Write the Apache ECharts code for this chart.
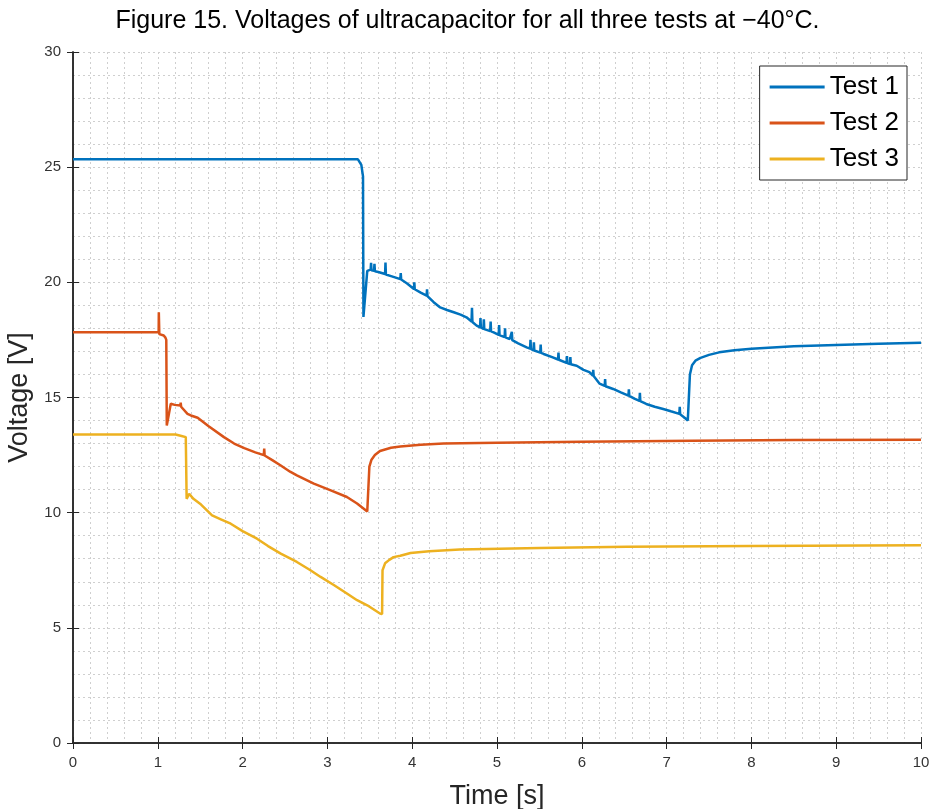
<!DOCTYPE html>
<html>
<head>
<meta charset="utf-8">
<script src="https://cdn.jsdelivr.net/npm/echarts@6/dist/echarts.min.js"></script>
<style>html,body{margin:0;padding:0;background:#fff}#c{width:935px;height:809px}</style>
</head>
<body>
<div id="c"></div>
<script>
// ---- data ----
const xTicks = [0,1,2,3,4,5,6,7,8,9,10];
const yTicks = [0,5,10,15,20,25,30];
const seriesNames = ['Test 1','Test 2','Test 3'];

const t1 = [0,3.36,3.40,3.42,3.425,3.47,3.49,3.51,3.515,3.52,3.55,3.555,3.56,3.6,3.68,3.685,3.69,3.76,3.86,3.865,3.87,3.94,
  4.02,4.025,4.03,4.1,4.17,4.175,4.18,4.25,4.33,4.41,4.49,4.57,4.64,4.70,4.705,4.71,4.76,4.80,4.805,4.81,4.84,4.845,4.85,
  4.92,4.925,4.93,4.96,5.02,5.025,5.03,5.09,5.095,5.1,5.15,5.17,5.175,5.18,5.25,5.35,5.39,5.395,5.4,5.43,5.435,5.44,
  5.51,5.515,5.52,5.55,5.65,5.72,5.725,5.73,5.74,5.82,5.825,5.83,5.86,5.865,5.87,5.94,6.02,6.09,6.13,6.135,6.14,6.21,
  6.27,6.275,6.28,6.37,6.46,6.55,6.555,6.56,6.62,6.68,6.685,6.69,6.76,6.86,6.96,7.05,7.15,7.155,7.16,7.22,7.25,7.27,
  7.275,7.30,7.34,7.4,7.5,7.62,7.8,8,8.5,9,9.5,10];
const v1 = [25.34,25.34,25.1,24.6,18.5,20.5,20.57,20.55,20.85,20.52,20.5,20.8,20.48,20.45,20.36,20.86,20.34,20.26,20.14,20.4,20.12,19.95,
  19.71,20.0,19.7,19.55,19.42,19.7,19.4,19.15,18.91,18.8,18.7,18.6,18.48,18.3,18.9,18.28,18.12,18.05,18.45,18.04,17.98,18.4,17.97,
  17.88,18.3,17.87,17.83,17.72,18.15,17.71,17.62,18.0,17.61,17.54,17.5,17.85,17.49,17.35,17.18,17.12,17.5,17.11,17.05,17.4,17.04,
  16.95,17.3,16.94,16.89,16.75,16.65,16.95,16.64,16.6,16.5,16.8,16.49,16.45,16.75,16.44,16.38,16.2,16.1,15.95,16.2,15.93,15.6,
  15.5,15.8,15.49,15.37,15.22,15.08,15.35,15.07,14.95,14.85,15.2,14.84,14.72,14.6,14.5,14.4,14.29,14.6,14.27,14.1,14.0,13.95,
  16.0,16.4,16.6,16.72,16.85,16.96,17.05,17.12,17.22,17.28,17.33,17.38];

const t2 = [0,1.01,1.012,1.018,1.03,1.07,1.09,1.10,1.106,1.153,1.2,1.265,1.27,1.275,1.35,1.39,1.47,1.6,1.78,1.9,2.02,2.15,2.25,2.255,2.26,
  2.35,2.45,2.56,2.64,2.84,3.04,3.23,3.35,3.47,3.49,3.495,3.52,3.56,3.62,3.75,3.86,4.1,4.37,5,6,7.3,8.5,10];
const v2 = [17.83,17.83,18.7,17.75,17.69,17.69,17.6,17.5,13.78,14.73,14.68,14.65,14.78,14.6,14.29,14.22,14.12,13.75,13.28,13.0,12.8,12.62,12.5,12.78,12.48,
  12.28,12.05,11.78,11.62,11.26,10.97,10.68,10.4,10.05,10.0,12.0,12.3,12.5,12.68,12.82,12.87,12.95,13.0,13.04,13.08,13.12,13.15,13.17];

const t3 = [0,1.21,1.28,1.33,1.34,1.37,1.42,1.51,1.64,1.75,1.86,2.0,2.17,2.3,2.45,2.64,2.8,2.92,3.08,3.23,3.35,3.47,3.62,3.645,3.65,
  3.68,3.73,3.78,3.86,3.98,4.2,4.56,5.5,6.53,8,10];
const v3 = [13.39,13.39,13.33,13.28,10.6,10.82,10.6,10.35,9.88,9.7,9.52,9.2,8.87,8.55,8.22,7.86,7.5,7.21,6.85,6.49,6.2,5.98,5.62,5.6,7.5,
  7.8,7.95,8.07,8.13,8.25,8.33,8.4,8.47,8.52,8.55,8.58];

const colors = ['#0072BD','#D95319','#EDB120'];
// --------------------------------------

const pair = (t, v) => t.map((x, i) => [x, v[i]]);
const data = [pair(t1, v1), pair(t2, v2), pair(t3, v3)];

const gridLine = {show: true, lineStyle: {color: '#cfcfcf', type: [2, 3], width: 1}};
const axisCol = '#262626';
const lbl = {color: '#333333', fontSize: 15, fontFamily: 'Liberation Sans, Arial, sans-serif'};

const chart = echarts.init(document.getElementById('c'), null, {renderer: 'canvas'});
chart.setOption({
  animation: false,
  backgroundColor: '#fff',
  title: {
    text: 'Figure 15. Voltages of ultracapacitor for all three tests at \u221240\u00B0C.',
    left: 'center', top: 4,
    textStyle: {fontFamily: 'Liberation Sans, Arial, sans-serif', fontSize: 25, fontWeight: 'normal', color: '#000'}
  },
  grid: {left: 73, right: 14, top: 52, bottom: 66, containLabel: false, outerBoundsMode: 'none'},
  legend: {
    data: seriesNames, orient: 'vertical', right: 28, top: 66,
    backgroundColor: '#fff', borderColor: '#262626', borderWidth: 1,
    padding: [8, 8, 8, 10], itemGap: 10, itemWidth: 55, itemHeight: 27,
    icon: 'path://M0,12 L55,12 L55,15 L0,15 Z',
    textStyle: {fontSize: 26, color: '#000', fontFamily: 'Liberation Sans, Arial, sans-serif'}
  },
  xAxis: [{
    type: 'value', min: 0, max: 10, interval: 1,
    name: 'Time [s]', nameLocation: 'middle', nameGap: 40,
    nameTextStyle: {fontSize: 27, color: '#262626', fontFamily: 'Liberation Sans, Arial, sans-serif'},
    axisLine: {show: true, onZero: false, lineStyle: {color: axisCol, width: 1.5}},
    axisTick: {show: true, inside: true, length: 6, lineStyle: {color: axisCol}},
    axisLabel: Object.assign({margin: 12, formatter: v => xTicks.includes(v) ? String(v) : ''}, lbl),
    splitLine: gridLine,
    minorTick: {show: false, splitNumber: 5},
    minorSplitLine: gridLine
  }, {
    type: 'value', min: 0, max: 10, interval: 1, position: 'top',
    axisLine: {show: true, lineStyle: {color: axisCol, width: 1.5}},
    axisTick: {show: true, inside: true, length: 6, lineStyle: {color: axisCol}},
    axisLabel: {show: false}, splitLine: {show: false}
  }],
  yAxis: [{
    type: 'value', min: 0, max: 30, interval: 5,
    name: 'Voltage [V]', nameLocation: 'middle', nameGap: 27, nameRotate: 90,
    nameTextStyle: {fontSize: 27, color: '#262626', fontFamily: 'Liberation Sans, Arial, sans-serif'},
    axisLine: {show: true, onZero: false, lineStyle: {color: axisCol, width: 1.5}},
    axisTick: {show: true, inside: true, length: 6, lineStyle: {color: axisCol}},
    axisLabel: Object.assign({margin: 12, formatter: v => yTicks.includes(v) ? String(v) : ''}, lbl),
    splitLine: gridLine,
    minorTick: {show: false, splitNumber: 5},
    minorSplitLine: gridLine
  }, {
    type: 'value', min: 0, max: 30, interval: 5, position: 'right',
    axisLine: {show: true, lineStyle: {color: axisCol, width: 1.5}},
    axisTick: {show: true, inside: true, length: 6, lineStyle: {color: axisCol}},
    axisLabel: {show: false}, splitLine: {show: false}
  }],
  series: seriesNames.map((n, i) => ({
    name: n, type: 'line', data: data[i], symbol: 'none', showSymbol: false,
    lineStyle: {color: colors[i], width: 2.5}, itemStyle: {color: colors[i]},
    z: 3 - i, silent: true
  }))
});
</script>
</body>
</html>
